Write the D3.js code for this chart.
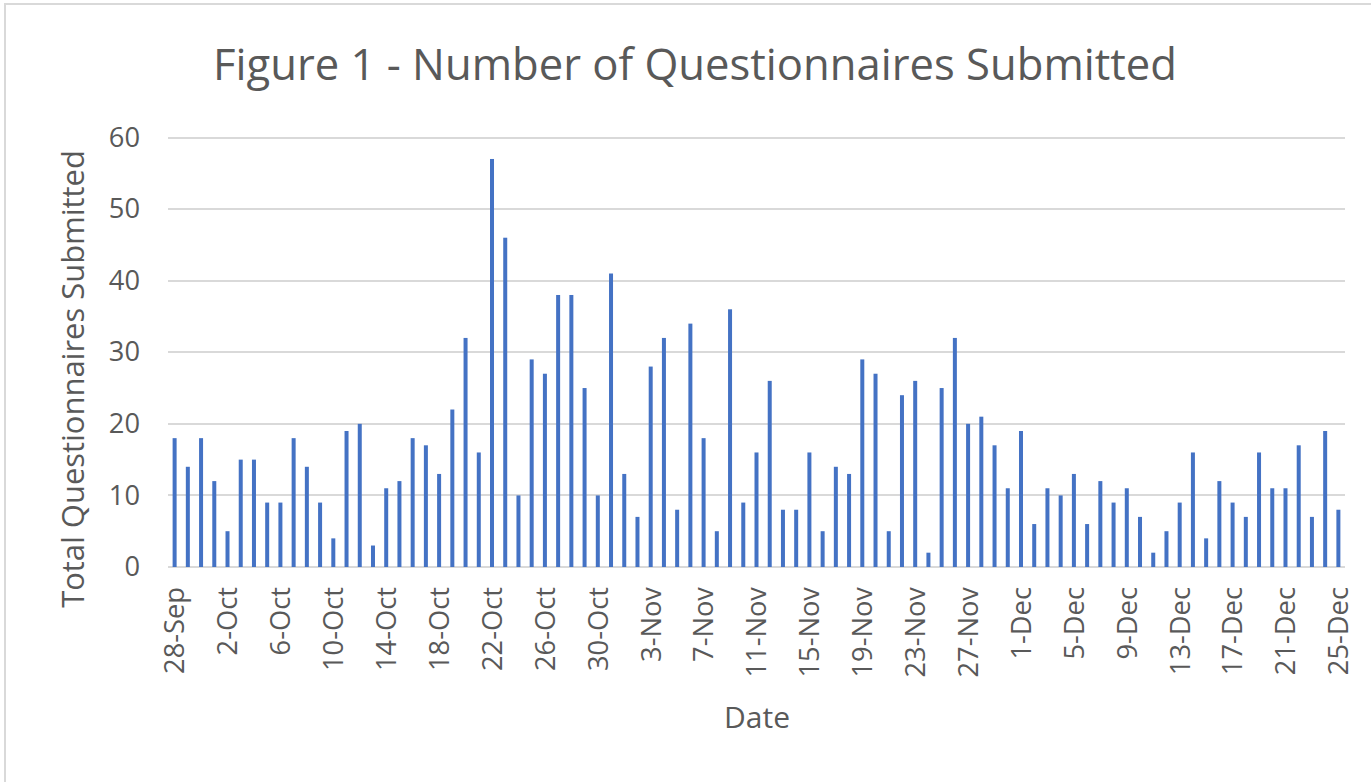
<!DOCTYPE html>
<html>
<head>
<meta charset="utf-8">
<script src="https://cdn.jsdelivr.net/npm/d3@7"></script>
<style>
  html, body { margin: 0; padding: 0; background: #ffffff; }
  svg { display: block; }
  text { font-family: "Open Sans", "Noto Sans", sans-serif; fill: #595959; }
</style>
</head>
<body>
<svg id="chart" width="1371" height="782"></svg>
<script>
// ---- data ----
const titleText = "Figure 1 - Number of Questionnaires Submitted";
const xTitle = "Date";
const yTitle = "Total Questionnaires Submitted";

const dates = [
  "28-Sep","29-Sep","30-Sep",
  "1-Oct","2-Oct","3-Oct","4-Oct","5-Oct","6-Oct","7-Oct","8-Oct","9-Oct","10-Oct",
  "11-Oct","12-Oct","13-Oct","14-Oct","15-Oct","16-Oct","17-Oct","18-Oct","19-Oct","20-Oct",
  "21-Oct","22-Oct","23-Oct","24-Oct","25-Oct","26-Oct","27-Oct","28-Oct","29-Oct","30-Oct","31-Oct",
  "1-Nov","2-Nov","3-Nov","4-Nov","5-Nov","6-Nov","7-Nov","8-Nov","9-Nov","10-Nov",
  "11-Nov","12-Nov","13-Nov","14-Nov","15-Nov","16-Nov","17-Nov","18-Nov","19-Nov","20-Nov",
  "21-Nov","22-Nov","23-Nov","24-Nov","25-Nov","26-Nov","27-Nov","28-Nov","29-Nov","30-Nov",
  "1-Dec","2-Dec","3-Dec","4-Dec","5-Dec","6-Dec","7-Dec","8-Dec","9-Dec","10-Dec",
  "11-Dec","12-Dec","13-Dec","14-Dec","15-Dec","16-Dec","17-Dec","18-Dec","19-Dec","20-Dec",
  "21-Dec","22-Dec","23-Dec","24-Dec","25-Dec"
];

const submitted = [
  18,14,18,
  12,5,15,15,9,9,18,14,9,4,
  19,20,3,11,12,18,17,13,22,32,
  16,57,46,10,29,27,38,38,25,10,41,
  13,7,28,32,8,34,18,5,36,9,
  16,26,8,8,16,5,14,13,29,27,
  5,24,26,2,25,32,20,21,17,11,
  19,6,11,10,13,6,12,9,11,7,
  2,5,9,16,4,12,9,7,16,11,
  11,17,7,19,8
];

const xTickLabels = ["28-Sep","2-Oct","6-Oct","10-Oct","14-Oct","18-Oct","22-Oct","26-Oct","30-Oct",
  "3-Nov","7-Nov","11-Nov","15-Nov","19-Nov","23-Nov","27-Nov",
  "1-Dec","5-Dec","9-Dec","13-Dec","17-Dec","21-Dec","25-Dec"];
const yTickValues = [0,10,20,30,40,50,60];

// ---- layout ----
const svg = d3.select("#chart");
const plot = { left: 168, right: 1345, top: 137.5, bottom: 567 };
const barColor = "#4472C4";
const gridColor = "#d9d9d9";

// fit a text element's font-size to a target length
function fit(sel, target) {
  const node = sel.node();
  const len = node.getComputedTextLength();
  const fs = parseFloat(sel.style("font-size"));
  sel.style("font-size", (fs * target / len) + "px");
}

// chart border
svg.append("rect")
  .attr("x", 5).attr("y", 4)
  .attr("width", 1380).attr("height", 800)
  .attr("fill", "none")
  .attr("stroke", gridColor)
  .attr("stroke-width", 2);

const x = d3.scaleBand()
  .domain(dates)
  .range([plot.left, plot.right])
  .paddingInner(0.7)
  .paddingOuter(0.35);

const y = d3.scaleLinear()
  .domain([0, 60])
  .range([plot.bottom, plot.top]);

// gridlines
svg.append("g")
  .selectAll("line")
  .data(yTickValues)
  .join("line")
  .attr("x1", plot.left).attr("x2", plot.right)
  .attr("y1", d => Math.round(y(d))).attr("y2", d => Math.round(y(d)))
  .attr("stroke", gridColor)
  .attr("stroke-width", 2);

// bars
svg.append("g")
  .selectAll("rect")
  .data(dates.map((d, i) => ({ date: d, value: submitted[i] })))
  .join("rect")
  .attr("x", d => x(d.date) + x.bandwidth() / 2 - 2)
  .attr("width", 4)
  .attr("y", d => y(d.value))
  .attr("height", d => y(0) - y(d.value))
  .attr("fill", barColor);

// y axis
const yAxis = svg.append("g")
  .attr("transform", `translate(${plot.left},0)`)
  .call(d3.axisLeft(y).tickValues(yTickValues).tickSize(0).tickPadding(28));
yAxis.select(".domain").remove();
yAxis.selectAll("text")
  .style("font-family", '"Open Sans", sans-serif')
  .style("font-size", "24px")
  .attr("fill", "#595959");

// x axis
const xAxis = svg.append("g")
  .attr("transform", `translate(0,${plot.bottom})`)
  .call(d3.axisBottom(x).tickValues(xTickLabels).tickSize(0));
xAxis.select(".domain").remove();
xAxis.selectAll("text")
  .attr("transform", "rotate(-90)")
  .attr("x", -20)
  .attr("y", 0)
  .attr("dy", "0.36em")
  .style("text-anchor", "end")
  .style("font-family", '"Open Sans", sans-serif')
  .style("font-size", "24px")
  .attr("fill", "#595959");

// fit tick font size from "28-Sep" width
const firstLbl = xAxis.selectAll("text").filter(d => d === "28-Sep");
const tickLen = firstLbl.node().getComputedTextLength();
const tickFs = 24 * 87 / tickLen;
xAxis.selectAll("text").style("font-size", tickFs + "px");
yAxis.selectAll("text").style("font-size", tickFs + "px");

// title
const t = svg.append("text")
  .attr("x", 695).attr("y", 80)
  .attr("text-anchor", "middle")
  .style("font-size", "40px")
  .text(titleText);
fit(t, 964);

// x title
const xtl = svg.append("text")
  .attr("x", 757).attr("y", 728)
  .attr("text-anchor", "middle")
  .style("font-size", "24px")
  .text(xTitle);
fit(xtl, 66);

// y title
const ytl = svg.append("text")
  .attr("transform", "translate(84,379) rotate(-90)")
  .attr("text-anchor", "middle")
  .style("font-size", "24px")
  .text(yTitle);
fit(ytl, 458);
</script>
</body>
</html>
